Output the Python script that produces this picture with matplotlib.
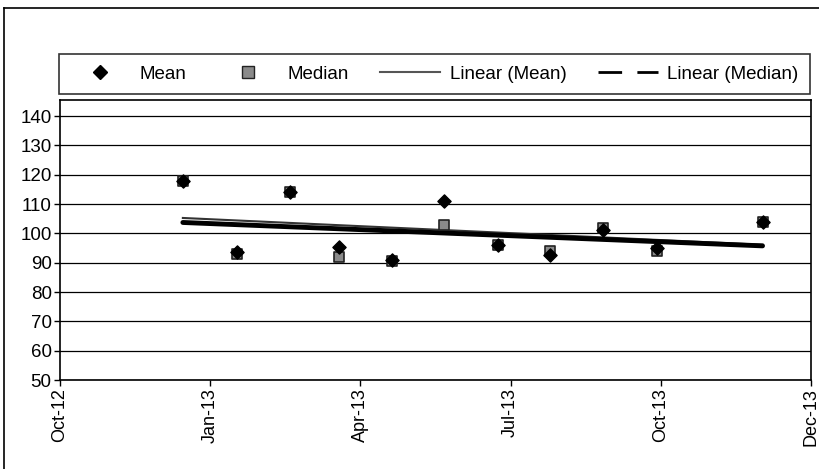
import numpy as np
import pandas as pd
import matplotlib
matplotlib.use("Agg")
import matplotlib.pyplot as plt
import matplotlib.dates as mdates
from matplotlib.lines import Line2D

plt.rcParams['font.family'] = ['Liberation Sans', 'DejaVu Sans']

# data
dates = ['2012-12-15', '2013-01-15', '2013-02-15', '2013-03-15', '2013-04-15',
         '2013-05-15', '2013-06-15', '2013-07-15', '2013-08-15', '2013-09-15',
         '2013-11-15']
mean_vals = [118, 93.5, 114, 95.5, 91, 111, 96, 92.5, 101, 95, 104]
median_vals = [118, 93, 114, 92, 90.5, 103, 96, 94, 102, 94, 104]
x_labels = ['Oct-12', 'Jan-13', 'Apr-13', 'Jul-13', 'Oct-13', 'Dec-13']
y_ticks = [50, 60, 70, 80, 90, 100, 110, 120, 130, 140]

x = mdates.date2num(pd.to_datetime(dates))
x_min = mdates.date2num(pd.Timestamp('2012-10-05'))
x_max = mdates.date2num(pd.Timestamp('2013-12-13'))

fig = plt.figure(figsize=(8.19, 4.69), dpi=100)
ax = fig.add_axes([60 / 819, 1 - 380 / 469, 751 / 819, 280 / 469])

# outer chart frame
fig.add_artist(Line2D([4 / 819, 4 / 819], [0, 1 - 8 / 469], color='black', lw=1.2,
                      transform=fig.transFigure))
fig.add_artist(Line2D([4 / 819, 1], [1 - 8 / 469, 1 - 8 / 469], color='black', lw=1.2,
                      transform=fig.transFigure))

# trend lines
fit_mean = np.polyfit(x, mean_vals, 1)
fit_median = np.polyfit(x, median_vals, 1)
xt = np.array([x[0], x[-1]])
ax.plot(xt, np.polyval(fit_mean, xt), color='#333333', lw=1.5, zorder=3)
ax.plot(xt, np.polyval(fit_median, xt), color='black', lw=3.5, solid_capstyle='round', zorder=3)

ax.scatter(x, median_vals, marker='s', s=55, facecolor='#8a8a8a', edgecolor='#222222',
           linewidths=1.2, zorder=4)
ax.scatter(x, mean_vals, marker='D', s=45, facecolor='black', edgecolor='black', zorder=5)

ax.set_xlim(x_min, x_max)
ax.set_ylim(50, 145.5)
ax.set_yticks(y_ticks)
ax.set_xticks(np.linspace(x_min, x_max, len(x_labels)))
ax.set_xticklabels(x_labels, rotation=90)
ax.yaxis.grid(True, color='black', lw=0.9)
ax.set_axisbelow(True)
ax.tick_params(axis='y', labelsize=13.5, length=4, width=1, color='black', pad=2)
ax.tick_params(axis='x', labelsize=13, length=4, width=1, color='black', pad=2)
for s in ax.spines.values():
    s.set_color('black')
    s.set_linewidth(1.2)

handles = [
    Line2D([], [], ls='none', marker='D', color='black', markersize=7),
    Line2D([], [], ls='none', marker='s', markerfacecolor='#8a8a8a', markeredgecolor='#222222', markersize=8),
    Line2D([], [], color='#555555', lw=1.5),
    Line2D([], [], color='black', lw=2, ls=(0, (8.5, 5.5))),
]
labels = ['Mean', 'Median', 'Linear (Mean)', 'Linear (Median)']
leg = fig.legend(handles, labels, loc='lower left', ncol=4, mode='expand',
                 bbox_to_anchor=(59 / 819, 1 - 94 / 469, 751 / 819, 44 / 469),
                 frameon=True, fancybox=False, edgecolor='black', fontsize=13.5,
                 handlelength=3.2, handletextpad=0.5, borderaxespad=0, borderpad=0.6)
leg.get_frame().set_linewidth(1.2)

fig.savefig('out.png', dpi=100)
